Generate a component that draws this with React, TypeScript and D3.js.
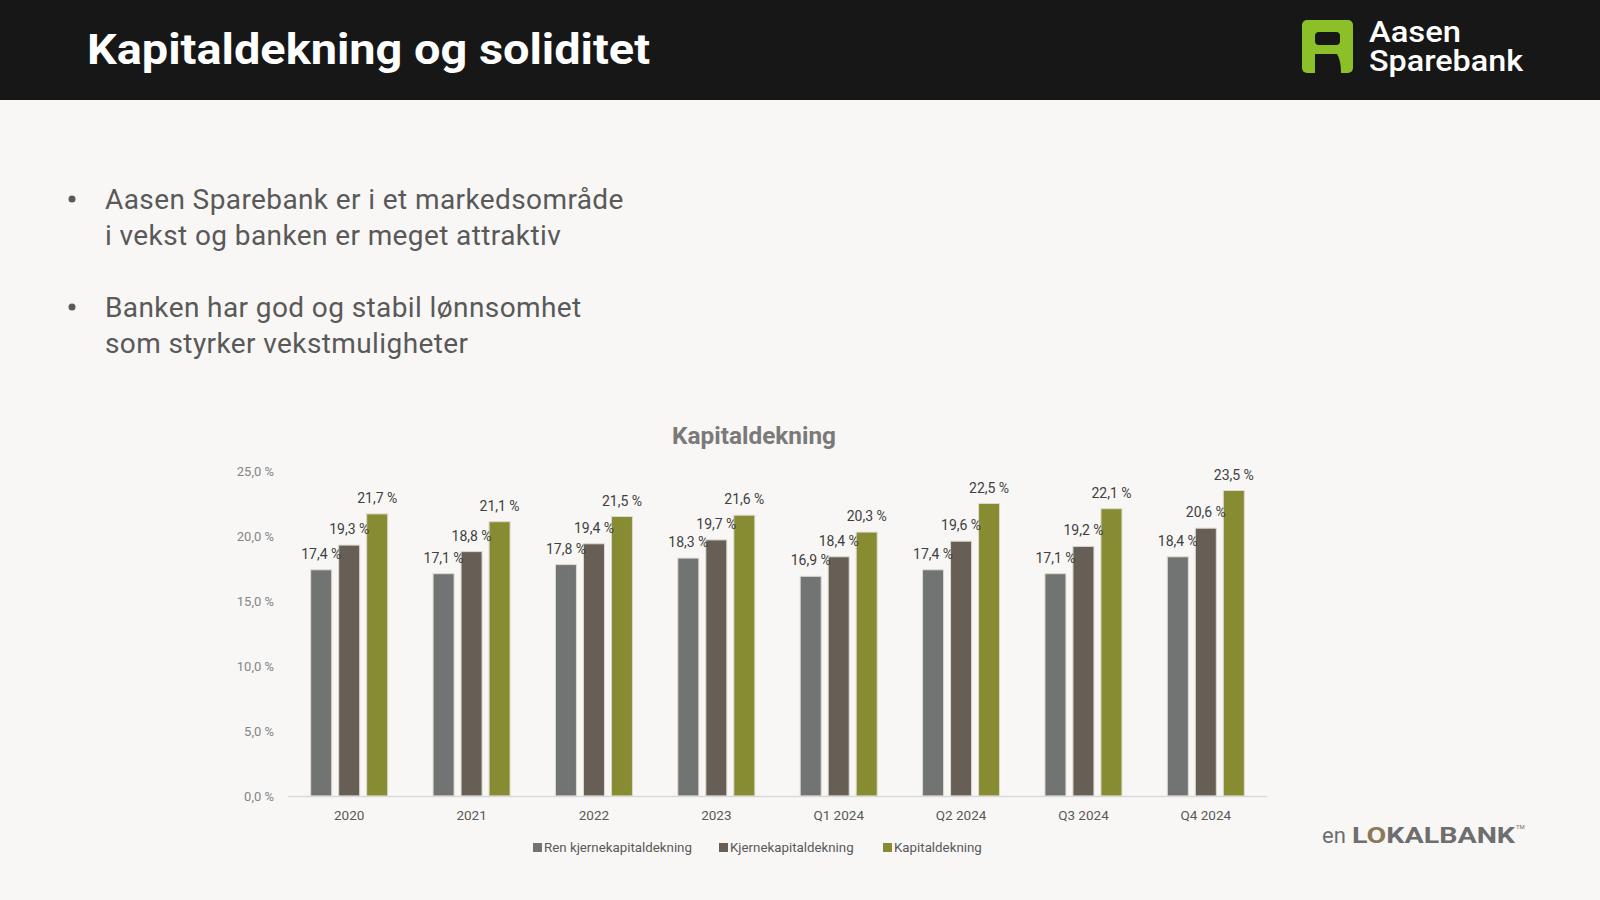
import React from "react";
import * as d3 from "d3";

const categories = ["2020", "2021", "2022", "2023", "Q1 2024", "Q2 2024", "Q3 2024", "Q4 2024"];
const renKjerne = [17.4, 17.1, 17.8, 18.3, 16.9, 17.4, 17.1, 18.4];
const kjerne = [19.3, 18.8, 19.4, 19.7, 18.4, 19.6, 19.2, 20.6];
const kapital = [21.7, 21.1, 21.5, 21.6, 20.3, 22.5, 22.1, 23.5];
const seriesNames = ["Ren kjernekapitaldekning", "Kjernekapitaldekning", "Kapitaldekning"];
const yTicks = [0, 5, 10, 15, 20, 25];
const bullets = [
  ["Aasen Sparebank er i et markedsområde", "i vekst og banken er meget attraktiv"],
  ["Banken har god og stabil lønnsomhet", "som styrker vekstmuligheter"],
];

const colors = ["#727473", "#675e55", "#878b31"];
const FONT = "Roboto, 'Noto Sans', sans-serif";

const fmt = (v: number) => d3.format(".1f")(v).replace(".", ",") + " %";

export default function App() {
  const W = 1600, H = 900;
  const x = d3.scaleBand<string>().domain(categories).range([288, 1267]).padding(0);
  const inner = d3.scaleBand<string>().domain(seriesNames).range([-38.5, 38.5]).paddingInner(0.25);
  const y = d3.scaleLinear().domain([0, 25]).range([796, 471]);
  const data = [renKjerne, kjerne, kapital];

  const legendX = [533, 719, 883];

  return (
    <svg width={W} height={H} style={{ position: "absolute", left: 0, top: 0 }} fontFamily={FONT}>
      <rect x={0} y={0} width={W} height={H} fill="#f8f7f5" />
      {/* header */}
      <rect x={0} y={0} width={W} height={100} fill="#171717" />
      <text x={87} y={64} fill="#ffffff" fontSize={43} fontWeight={700} textLength={563} lengthAdjust="spacingAndGlyphs">
        Kapitaldekning og soliditet
      </text>
      {/* logo */}
      <g>
        <rect x={1302} y={20} width={51} height={53} rx={5} fill="#8cc028" />
        <rect x={1315} y={32} width={25} height={13} rx={4} fill="#171717" />
        <path d="M1315,54 L1337,54 Q1341,60 1341,73 L1315,73 Z" fill="#171717" />
        <text x={1369} y={42} fill="#ffffff" fontSize={29} fontWeight={500} textLength={92} lengthAdjust="spacingAndGlyphs">Aasen</text>
        <text x={1369} y={71} fill="#ffffff" fontSize={29} fontWeight={500} textLength={154} lengthAdjust="spacingAndGlyphs">Sparebank</text>
      </g>
      {/* bullets */}
      {bullets.map((b, i) => (
        <g key={i}>
          <circle cx={72} cy={199 + i * 108} r={3.5} fill="#595959" />
          {b.map((line, j) => (
            <text key={j} x={105} y={209 + i * 108 + j * 36} fill="#595959" fontSize={28} letterSpacing={0.4}>
              {line}
            </text>
          ))}
        </g>
      ))}
      {/* chart title */}
      <text x={754} y={444} textAnchor="middle" fill="#7a7a7a" fontSize={23} fontWeight={700} textLength={164} lengthAdjust="spacingAndGlyphs">
        Kapitaldekning
      </text>
      {/* y ticks */}
      {yTicks.map((t) => (
        <text key={t} x={274} y={y(t) + 4.5} textAnchor="end" fill="#858585" fontSize={13}>
          {fmt(t)}
        </text>
      ))}
      {/* bars */}
      {categories.map((c, ci) => (
        <g key={c}>
          {data.map((s, si) => {
            const bx = (x(c) as number) + x.bandwidth() / 2 + (inner(seriesNames[si]) as number);
            return (
              <rect key={si} x={bx} y={y(s[ci])} width={inner.bandwidth()} height={y(0) - y(s[ci])}
                fill={colors[si]} stroke="#dcdbd0" strokeWidth={1} />
            );
          })}
        </g>
      ))}
      {/* axis line */}
      <line x1={288} x2={1267} y1={796.5} y2={796.5} stroke="#d9d9d9" strokeWidth={1.5} />
      {/* data labels */}
      {categories.map((c, ci) => (
        <g key={c}>
          {data.map((s, si) => {
            const cx = (x(c) as number) + x.bandwidth() / 2 + (inner(seriesNames[si]) as number) + inner.bandwidth() / 2;
            return (
              <text key={si} x={cx} y={y(s[ci]) - 11} textAnchor="middle" fill="#404040" fontSize={14}>
                {fmt(s[ci])}
              </text>
            );
          })}
        </g>
      ))}
      {/* category labels */}
      {categories.map((c) => (
        <text key={c} x={(x(c) as number) + x.bandwidth() / 2} y={820} textAnchor="middle" fill="#595959" fontSize={13.5}>
          {c}
        </text>
      ))}
      {/* legend */}
      {seriesNames.map((n, i) => (
        <g key={n}>
          <rect x={legendX[i]} y={843} width={9} height={9} fill={colors[i]} />
          <text x={legendX[i] + 11} y={852} fill="#595959" fontSize={13.3}>{n}</text>
        </g>
      ))}
      {/* lokalbank */}
      <g>
        <text x={1322} y={843} fill="#6e6e6e" fontSize={22}>en</text>
        <text x={1352} y={843} fill="#6e6e6e" fontSize={22.5} fontWeight={700} textLength={163} lengthAdjust="spacingAndGlyphs">
          L<tspan fill="#8b7a55">O</tspan>KALBANK
        </text>
        <text x={1516} y={829} fill="#6e6e6e" fontSize={6}>TM</text>
      </g>
    </svg>
  );
}
